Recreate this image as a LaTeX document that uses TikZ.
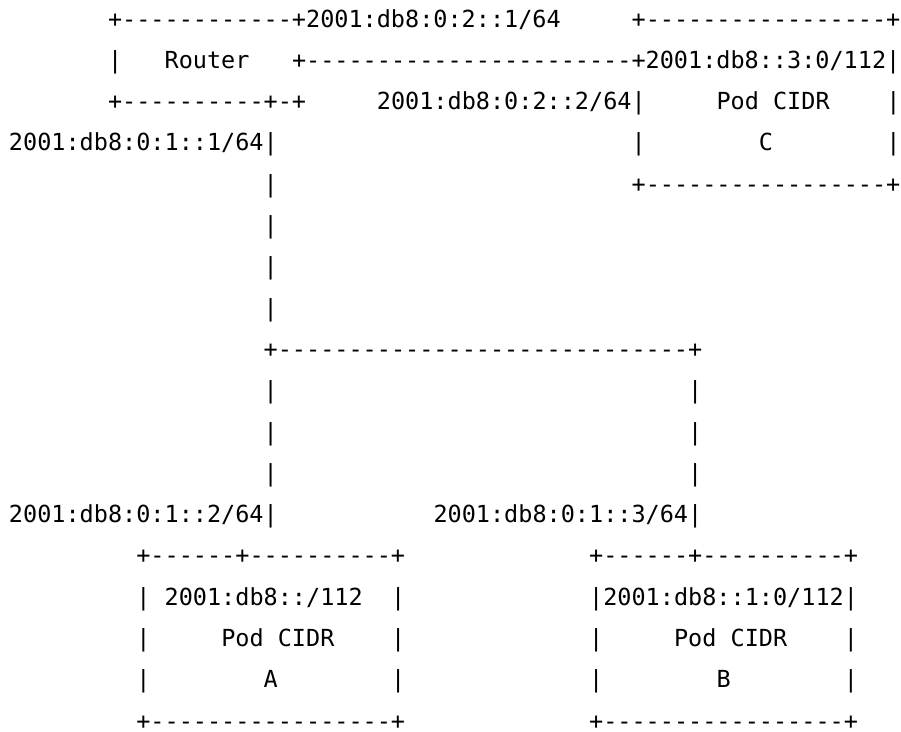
\documentclass[tikz,border=0pt]{standalone}
\usepackage{fontspec}
\setmonofont{DejaVu Sans Mono}

\begin{document}
\begin{tikzpicture}[x=7.075pt,y=-20.65pt,
  txt/.style = {anchor=base west, inner sep=0pt, outer sep=0pt, font=\ttfamily\fontsize{11.75}{14}\selectfont}]
\useasboundingbox (-0.636,-0.654) rectangle (63.04,17.05);
% router and pod C
\node[txt] (r0a) at (7,0) {+------------+2001:db8:0:2::1/64};
\node[txt] (r0b) at (44,0) {+-----------------+};
\node[txt] (r1a) at (7,1) {|};
\node[txt] (router) at (11,1) {Router};
\node[txt] (r1b) at (20,1) {+-----------------------+2001:db8::3:0/112|};
\node[txt] (r2a) at (7,2) {+----------+-+};
\node[txt] (r2b) at (26,2) {2001:db8:0:2::2/64|};
\node[txt] (podc) at (50,2) {Pod CIDR};
\node[txt] (r2c) at (62,2) {|};
\node[txt] (r3a) at (0,3) {2001:db8:0:1::1/64|};
\node[txt] (r3b) at (44,3) {|};
\node[txt] (c) at (53,3) {C};
\node[txt] (r3c) at (62,3) {|};
\node[txt] (r4a) at (18,4) {|};
\node[txt] (r4b) at (44,4) {+-----------------+};
% link
\foreach \r in {5,6,7}
  \node[txt] (v\r) at (18,\r) {|};
\node[txt] (r8) at (18,8) {+-----------------------------+};
\foreach \r in {9,10,11} {
  \node[txt] (vl\r) at (18,\r) {|};
  \node[txt] (vr\r) at (48,\r) {|};
}
\node[txt] (r12a) at (0,12) {2001:db8:0:1::2/64|};
\node[txt] (r12b) at (30,12) {2001:db8:0:1::3/64|};
% pod A
\node[txt] (a1) at (9,13) {+------+----------+};
\node[txt] (a2) at (9,14) {|};
\node[txt] (cidra) at (11,14) {2001:db8::/112};
\node[txt] (a3) at (27,14) {|};
\node[txt] (a4) at (9,15) {|};
\node[txt] (poda) at (15,15) {Pod CIDR};
\node[txt] (a5) at (27,15) {|};
\node[txt] (a6) at (9,16) {|};
\node[txt] (a) at (18,16) {A};
\node[txt] (a7) at (27,16) {|};
\node[txt] (a8) at (9,17) {+-----------------+};
% pod B
\node[txt] (b1) at (41,13) {+------+----------+};
\node[txt] (cidrb) at (41,14) {|2001:db8::1:0/112|};
\node[txt] (b4) at (41,15) {|};
\node[txt] (podb) at (47,15) {Pod CIDR};
\node[txt] (b5) at (59,15) {|};
\node[txt] (b6) at (41,16) {|};
\node[txt] (b) at (50,16) {B};
\node[txt] (b7) at (59,16) {|};
\node[txt] (b8) at (41,17) {+-----------------+};
\end{tikzpicture}
\end{document}
